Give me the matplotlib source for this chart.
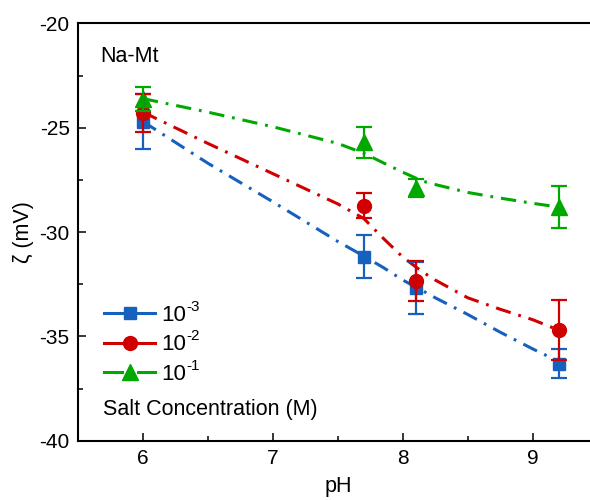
import matplotlib
matplotlib.use("Agg")
import matplotlib.pyplot as plt
from matplotlib.ticker import MultipleLocator

plt.rcParams['font.family'] = ['Liberation Sans', 'DejaVu Sans']
plt.rcParams['axes.unicode_minus'] = False

# Measured zeta potentials (mean and error) at each pH
ph = [6.0, 7.7, 8.1, 9.2]
zeta_1e3 = [-24.7, -31.18, -32.68, -36.3]
err_1e3 = [1.34, 1.03, 1.25, 0.70]
zeta_1e2 = [-24.3, -28.74, -32.34, -34.7]
err_1e2 = [0.92, 0.60, 0.95, 1.45]
zeta_1e1 = [-23.62, -25.69, -27.88, -28.8]
err_1e1 = [0.58, 0.74, 0.42, 1.02]

# Fitted trend curves
fit_ph = [6.0, 6.5, 7.0, 7.5, 7.7, 7.85, 8.0, 8.15, 8.25, 8.5, 8.75, 9.0, 9.2]
fit_1e3 = [-24.7, -26.7, -28.55, -30.45, -31.15, -31.7, -32.3, -32.8, -33.15, -33.95, -34.8, -35.6, -36.2]
fit_1e2 = [-24.25, -25.75, -27.2, -28.65, -29.35, -30.3, -31.2, -31.9, -32.3, -33.15, -33.7, -34.2, -34.7]
fit_1e1 = [-23.6, -24.25, -24.95, -25.75, -26.22, -26.68, -27.13, -27.55, -27.72, -28.1, -28.37, -28.62, -28.8]

labels_exp = ['-3', '-2', '-1']
colors = ['#1660be', '#d10000', '#00a800']
markers = ['s', 'o', '^']
msizes = [8.6, 10.0, 11.5]

W, H = 590, 500
fig = plt.figure(figsize=(W / 100, H / 100), dpi=100)
ax = fig.add_axes([78 / W, 1 - 440.7 / H, (597.7 - 78) / W, (440.7 - 23.5) / H])

series = [(zeta_1e3, err_1e3, fit_1e3),
          (zeta_1e2, err_1e2, fit_1e2),
          (zeta_1e1, err_1e1, fit_1e1)]

dash = (0, (5, 2.6, 0.9, 2.6))
for (z, e, f), c, m, ms in zip(series, colors, markers, msizes):
    ax.plot(fit_ph, f, color=c, lw=2.2, linestyle=dash, zorder=2)
    ax.plot(ph, z, linestyle='none', marker=m, markersize=ms,
            color=c, markeredgecolor=c, zorder=3)
    ax.errorbar(ph, z, yerr=e, fmt='none', ecolor=c, elinewidth=1.6,
                capsize=5.8, capthick=1.6, zorder=4)

ax.set_xlim(5.5, 9.5)
ax.set_ylim(-40, -20)
ax.xaxis.set_major_locator(MultipleLocator(1))
ax.xaxis.set_minor_locator(MultipleLocator(0.5))
ax.yaxis.set_major_locator(MultipleLocator(5))
ax.yaxis.set_minor_locator(MultipleLocator(2.5))
ax.tick_params(which='major', direction='in', length=5.8, width=1.1,
               labelsize=15, pad=6, top=False, right=False)
ax.tick_params(which='minor', direction='in', length=3.6, width=1.1,
               top=False, right=False)
for s in ax.spines.values():
    s.set_linewidth(1.5)

ax.set_xlabel('pH', fontsize=15.5, labelpad=6)
ax.set_ylabel('ζ (mV)', fontsize=15.5, labelpad=4)


def px(x, y):
    return x / W, 1 - y / H


fig.text(*px(100, 62), 'Na-Mt', fontsize=15.5, ha='left', va='baseline')
fig.text(*px(103, 415), 'Salt Concentration (M)', fontsize=15.5,
         ha='left', va='baseline')

# Legend drawn by hand: line segments around each marker, then 10^n text
row_y = [313, 343, 372.3]
row_base = [321, 350.5, 380]
for yy, yb, c, m, ms, ex in zip(row_y, row_base, colors, markers, msizes, labels_exp):
    for x0, x1 in [(104, 121.5), (138, 155)]:
        fig.add_artist(plt.Line2D([x0 / W, x1 / W], [1 - yy / H, 1 - yy / H],
                                  transform=fig.transFigure, color=c, lw=2.2))
    fig.add_artist(plt.Line2D([129.5 / W], [1 - yy / H], transform=fig.transFigure,
                              marker=m, markersize=ms, color=c,
                              markeredgecolor=c, linestyle='none'))
    fig.text(*px(161.5, yb), '10', fontsize=16, ha='left', va='baseline')
    fig.text(*px(186, yb - 10), ex, fontsize=11, ha='left', va='baseline')

fig.savefig('out.png', dpi=100)
